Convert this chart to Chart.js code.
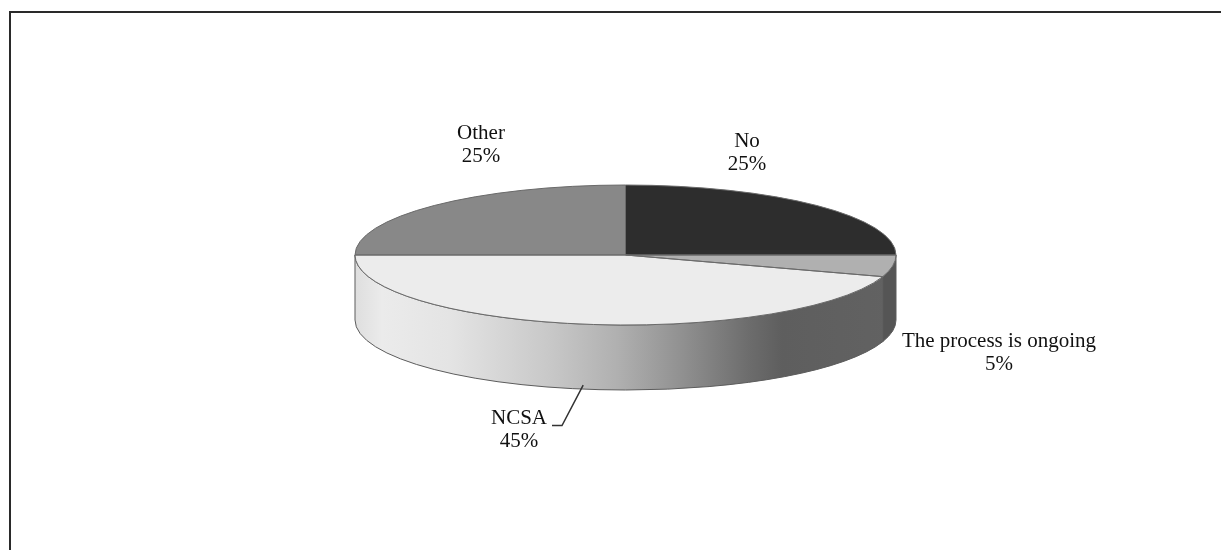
<!DOCTYPE html>
<html>
<head>
<meta charset="utf-8">
<title>3D pie</title>
<script src="https://cdn.jsdelivr.net/npm/chart.js@4"></script>
<style>
  html, body { margin: 0; padding: 0; background: #fff; overflow: hidden; }
  #wrap { position: relative; width: 1221px; height: 550px; }
  #myChart { position: absolute; left: 0; top: 0; }
</style>
</head>
<body>
<div id="wrap"><canvas id="myChart" width="1221" height="550"></canvas></div>
<script>
const categories = ['No', 'The process is ongoing', 'NCSA', 'Other']
const values = [25, 5, 45, 25]
const topColors = ['#2d2d2d', '#b0b0b0', '#ececec', '#888888']

// flattening of the pie, screen position of its centre
const pieX = 625.5
const pieY = 255
const pieRadius = 270.5
const squash = 70 / 270.5
const depth = 65

// centre of each text block, in the same order as categories
const labelBoxes = [
  { x: 747, y: 141 },
  { x: 999, y: 341 },
  { x: 519, y: 418 },
  { x: 481, y: 133 },
]

const wallStops = [
  [0, '#dedede'], [0.05, '#ebebeb'], [0.175, '#e4e4e4'], [0.36, '#c8c8c8'],
  [0.485, '#b0b0b0'], [0.606, '#909090'], [0.73, '#6c6c6c'], [0.79, '#5e5e5e'],
  [1, '#626262'],
]

const ctx = document.getElementById('myChart')

function wallPath(c, a0, a1) {
  const ry = pieRadius * squash
  c.beginPath()
  c.ellipse(pieX, pieY, pieRadius, ry, 0, a0, a1)
  c.ellipse(pieX, pieY + depth, pieRadius, ry, 0, a1, a0, true)
  c.closePath()
}

const pie3d = {
  id: 'pie3d',
  beforeDatasetsDraw(chart) {
    const c = chart.ctx
    const arc = chart.getDatasetMeta(0).data[0]
    c.save()
    // front wall, only the part of each slice facing the viewer
    chart.getDatasetMeta(0).data.forEach((el, i) => {
      const a0 = Math.max(el.startAngle, 0)
      const a1 = Math.min(el.endAngle, Math.PI)
      if (a1 <= a0) return
      if (categories[i] === 'NCSA') {
        const g = c.createLinearGradient(pieX - pieRadius, 0, pieX + pieRadius, 0)
        wallStops.forEach((s) => g.addColorStop(s[0], s[1]))
        c.fillStyle = g
      } else {
        c.fillStyle = '#555555'
      }
      wallPath(c, a0, a1)
      c.fill()
      c.lineWidth = 1
      c.strokeStyle = '#5c5c5c'
      c.stroke()
    })
    c.restore()
    c.save()
    c.translate(pieX, pieY)
    c.scale(1, squash)
    c.translate(-arc.x, -arc.y)
  },
  afterDatasetsDraw(chart) {
    const c = chart.ctx
    c.restore()
    c.save()
    c.strokeStyle = '#6a6a6a'
    c.lineWidth = 1
    chart.getDatasetMeta(0).data.forEach((el) => {
      c.beginPath()
      c.moveTo(pieX, pieY)
      c.ellipse(pieX, pieY, pieRadius, pieRadius * squash, 0, el.startAngle, el.endAngle)
      c.closePath()
      c.stroke()
    })
    // labels
    c.fillStyle = '#111'
    c.font = '21px "Liberation Serif"'
    c.textAlign = 'center'
    c.textBaseline = 'middle'
    categories.forEach((name, i) => {
      const b = labelBoxes[i]
      c.fillText(name, b.x, b.y)
      c.fillText(values[i] + '%', b.x, b.y + 23)
    })
    // NCSA leader line
    const ncsa = chart.getDatasetMeta(0).data[categories.indexOf('NCSA')]
    const mid = (ncsa.startAngle + ncsa.endAngle) / 2
    c.strokeStyle = '#333'
    c.lineWidth = 1.5
    c.beginPath()
    c.moveTo(552, 425.5)
    c.lineTo(562, 425.5)
    c.lineTo(pieX + pieRadius * Math.cos(mid), pieY + depth + pieRadius * squash * Math.sin(mid) - 4)
    c.stroke()
    c.restore()
  },
}

new Chart(ctx, {
  type: 'pie',
  data: {
    labels: categories,
    datasets: [
      {
        data: values,
        backgroundColor: topColors,
        borderWidth: 0,
        clip: false,
      },
    ],
  },
  options: {
    responsive: false,
    animation: false,
    radius: pieRadius,
    layout: { padding: 0 },
    plugins: {
      legend: { display: false },
      tooltip: { enabled: false },
    },
  },
  plugins: [pie3d],
})

// chart frame, open on the right and at the bottom
const frame = document.createElement('div')
frame.style.cssText = 'position:absolute;left:9px;top:11px;right:0;bottom:0;border-left:2px solid #2a2a2a;border-top:2px solid #2a2a2a;pointer-events:none'
document.getElementById('wrap').appendChild(frame)
</script>
</body>
</html>
